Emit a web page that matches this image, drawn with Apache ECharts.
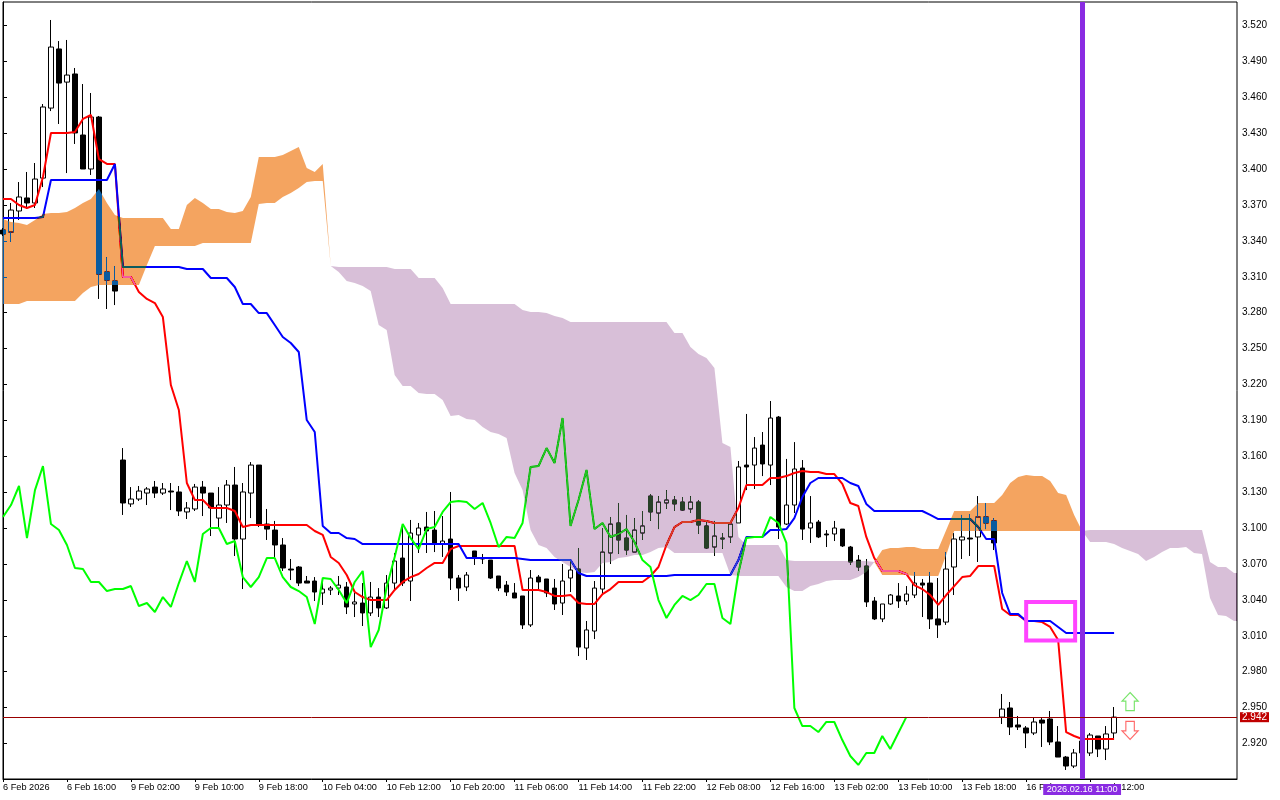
<!DOCTYPE html>
<html>
<head>
<meta charset="utf-8">
<style>html,body{margin:0;padding:0;background:#fff}#c{width:1280px;height:800px}</style>
<script src="https://cdn.jsdelivr.net/npm/echarts@6/dist/echarts.min.js"></script>
</head>
<body>
<div id="c"></div>
<script>
const opens = [
3.3491,3.3474,3.3650,3.3759,3.3717,3.3925,3.4510,3.5004,3.4727,3.4795,
3.4285,3.4001,3.4435,3.3140,3.3065,3.1569,3.1202,3.1243,3.1293,3.1343,
3.1293,3.1310,3.1302,3.1135,3.1160,3.1343,3.1293,3.1084,3.1193,3.1360,
3.0909,3.1293,3.1527,3.1034,3.0984,3.0859,3.0658,3.0675,3.0558,3.0558,
3.0458,3.0483,3.0499,3.0508,3.0366,3.0374,3.0291,3.0424,3.0333,3.0541,
3.0750,3.0558,3.0943,3.1009,3.0984,3.0867,3.0909,3.0583,3.0508,3.0809,
3.0750,3.0733,3.0600,3.0524,3.0458,3.0433,3.0191,3.0591,3.0575,3.0499,
3.0374,3.0583,3.0658,2.9998,3.0140,3.0491,3.0792,3.1043,3.0917,3.0800,
3.0959,3.1268,3.1126,3.1210,3.1235,3.1218,3.1160,3.1218,3.1018,3.0842,
3.0917,3.0926,3.1043,3.1527,3.1527,3.1694,3.1527,3.1928,3.1034,3.1193,
3.1502,3.1001,3.1051,3.0951,3.0951,3.0992,3.0842,3.0733,3.0683,3.0391,
3.0241,3.0366,3.0433,3.0391,3.0441,3.0541,3.0541,3.0241,3.0215,3.0675,
3.0901,3.0917,3.0926,3.1093,3.1060,2.9421,2.9497,2.9355,2.9330,2.9288,
2.9396,2.9405,2.9213,2.9087,2.9012,2.9121,2.9121,2.9263,2.9154,2.9288];
const closes = [
3.3458,3.3658,3.3767,3.3717,3.3917,3.4519,3.5020,3.4719,3.4786,3.4302,
3.4001,3.4435,3.3123,3.3073,3.2981,3.1210,3.1243,3.1310,3.1327,3.1293,
3.1327,3.1302,3.1143,3.1168,3.1343,3.1293,3.1168,3.1193,3.1360,3.0909,
3.1302,3.1527,3.1034,3.0992,3.0859,3.0667,3.0650,3.0541,3.0541,3.0466,
3.0491,3.0499,3.0524,3.0341,3.0383,3.0291,3.0424,3.0333,3.0541,3.0725,
3.0541,3.0959,3.1001,3.0976,3.0876,3.0892,3.0583,3.0499,3.0608,3.0759,
3.0742,3.0583,3.0499,3.0466,3.0416,3.0191,3.0583,3.0550,3.0458,3.0366,
3.0558,3.0650,3.0006,3.0149,3.0499,3.0800,3.1034,3.0901,3.0817,3.0984,
3.1018,3.1135,3.1218,3.1235,3.1202,3.1151,3.1218,3.1026,3.0834,3.0934,
3.0909,3.1034,3.1511,3.1511,3.1669,3.1536,3.1920,3.1009,3.1193,3.1494,
3.0992,3.1043,3.0926,3.0943,3.1001,3.0851,3.0717,3.0675,3.0383,3.0241,
3.0366,3.0441,3.0391,3.0449,3.0541,3.0524,3.0241,3.0191,3.0658,3.0909,
3.0926,3.0909,3.1093,3.1043,3.0876,2.9488,2.9338,2.9338,2.9288,2.9380,
2.9371,2.9213,2.9087,2.9012,2.9121,2.9221,2.9271,2.9154,2.9280,2.9421];
const lows = [
3.3441,3.3391,3.3575,3.3667,3.3675,3.3850,3.4485,3.4377,3.3967,3.4210,
3.4001,3.3951,3.2915,3.2831,3.2864,3.1110,3.1177,3.1227,3.1193,3.1252,
3.1277,3.1151,3.1101,3.1076,3.1143,3.1101,3.0934,3.1001,3.1043,3.0767,
3.0491,3.1084,3.1009,3.0901,3.0759,3.0642,3.0566,3.0516,3.0541,3.0391,
3.0358,3.0441,3.0441,3.0282,3.0257,3.0182,3.0266,3.0257,3.0324,3.0483,
3.0516,3.0391,3.0792,3.0792,3.0800,3.0759,3.0483,3.0391,3.0474,3.0692,
3.0700,3.0575,3.0474,3.0433,3.0416,3.0157,3.0174,3.0491,3.0424,3.0316,
3.0274,3.0466,2.9931,2.9898,3.0073,3.0449,3.0700,3.0784,3.0775,3.0800,
3.0901,3.1060,3.0992,3.1160,3.1143,3.1143,3.1126,3.0951,3.0826,3.0767,
3.0826,3.0876,3.1043,3.1318,3.1327,3.1435,3.1360,3.0909,3.1026,3.1126,
3.0901,3.0876,3.0917,3.0842,3.0892,3.0842,3.0692,3.0642,3.0341,3.0232,
3.0215,3.0358,3.0333,3.0358,3.0416,3.0257,3.0157,3.0082,3.0191,3.0441,
3.0742,3.0767,3.0717,3.0992,3.0817,2.9363,2.9271,2.9313,2.9162,2.9271,
2.9171,2.9187,2.9087,2.8979,2.8995,2.9062,2.9096,2.9087,2.9062,2.9238];
const highs = [
3.3508,3.3717,3.3892,3.3976,3.4051,3.4544,3.5246,3.5070,3.5079,3.4845,
3.4711,3.4636,3.4444,3.3265,3.3190,3.1669,3.1343,3.1352,3.1343,3.1394,
3.1377,3.1377,3.1352,3.1218,3.1369,3.1394,3.1293,3.1343,3.1402,3.1511,
3.1377,3.1552,3.1527,3.1160,3.1060,3.0917,3.0742,3.0683,3.0600,3.0591,
3.0583,3.0516,3.0600,3.0550,3.0458,3.0541,3.0550,3.0499,3.0608,3.0792,
3.1026,3.1068,3.1043,3.1135,3.1143,3.1101,3.1302,3.0608,3.0633,3.0809,
3.0784,3.0733,3.0600,3.0558,3.0541,3.0433,3.0650,3.0608,3.0575,3.0575,
3.0700,3.0725,3.0834,3.0224,3.0558,3.1001,3.1093,3.1210,3.1110,3.1084,
3.1143,3.1285,3.1268,3.1318,3.1268,3.1260,3.1268,3.1235,3.1060,3.1060,
3.0959,3.1060,3.1561,3.1954,3.1761,3.1803,3.2062,3.1937,3.1578,3.1719,
3.1569,3.1268,3.1068,3.0984,3.1060,3.0992,3.0851,3.0775,3.0742,3.0424,
3.0366,3.0449,3.0541,3.0516,3.0633,3.0575,3.0633,3.0583,3.0800,3.0959,
3.1110,3.1118,3.1268,3.1210,3.1084,2.9614,2.9547,2.9430,2.9346,2.9421,
2.9413,2.9472,2.9346,2.9096,2.9154,2.9246,2.9288,2.9263,2.9346,2.9505];

const tenkan = [
3.3750,3.3750,3.3700,3.3675,3.3700,3.3934,3.4302,3.4302,3.4302,3.4310,
3.4419,3.4452,3.4084,3.4043,3.4043,3.3098,3.3098,3.2973,3.2915,3.2881,
3.2764,3.2196,3.1987,3.1377,3.1235,3.1235,3.1168,3.1168,3.1168,3.1143,
3.1009,3.1026,3.1026,3.1026,3.1026,3.1026,3.1026,3.1026,3.1026,3.0976,
3.0943,3.0759,3.0709,3.0608,3.0466,3.0424,3.0399,3.0399,3.0399,3.0483,
3.0550,3.0591,3.0617,3.0667,3.0709,3.0709,3.0825,3.0851,3.0851,3.0851,
3.0851,3.0851,3.0851,3.0851,3.0851,3.0483,3.0483,3.0483,3.0466,3.0433,
3.0433,3.0441,3.0374,3.0366,3.0366,3.0449,3.0491,3.0550,3.0550,3.0550,
3.0550,3.0600,3.0675,3.0859,3.1009,3.1051,3.1051,3.1068,3.1060,3.1043,
3.1043,3.1043,3.1168,3.1360,3.1360,3.1360,3.1419,3.1419,3.1435,3.1461,
3.1477,3.1469,3.1469,3.1452,3.1452,3.1369,3.1210,3.1185,3.0926,3.0750,
3.0642,3.0642,3.0642,3.0617,3.0524,3.0491,3.0441,3.0358,3.0441,3.0516,
3.0591,3.0600,3.0683,3.0683,3.0683,3.0324,3.0274,3.0274,3.0224,3.0224,
3.0215,3.0174,3.0065,2.9296,2.9263,2.9238,2.9238,2.9238,2.9238,2.9238];
const kijun = [
3.3591,3.3591,3.3591,3.3591,3.3591,3.3600,3.3909,3.3909,3.3909,3.3909,
3.3909,3.3909,3.3909,3.3909,3.4043,3.3182,3.3182,3.3182,3.3182,3.3182,
3.3182,3.3182,3.3182,3.3165,3.3165,3.3165,3.3090,3.3090,3.3090,3.3015,
3.2873,3.2873,3.2797,3.2797,3.2697,3.2597,3.2547,3.2472,3.1903,3.1803,
3.1018,3.0959,3.0959,3.0917,3.0909,3.0867,3.0867,3.0867,3.0867,3.0867,
3.0867,3.0867,3.0867,3.0867,3.0867,3.0867,3.0867,3.0867,3.0750,3.0750,
3.0750,3.0750,3.0750,3.0750,3.0750,3.0742,3.0733,3.0733,3.0733,3.0733,
3.0733,3.0733,3.0625,3.0600,3.0600,3.0600,3.0600,3.0600,3.0600,3.0600,
3.0600,3.0600,3.0600,3.0600,3.0608,3.0608,3.0608,3.0608,3.0608,3.0608,
3.0608,3.0608,3.0733,3.0926,3.0926,3.0926,3.0984,3.0984,3.0992,3.1084,
3.1260,3.1377,3.1419,3.1419,3.1419,3.1419,3.1377,3.1352,3.1202,3.1143,
3.1143,3.1143,3.1143,3.1143,3.1143,3.1143,3.1110,3.1076,3.1076,3.1076,
3.1076,3.1076,3.1009,3.0909,3.0909,3.0458,3.0282,3.0282,3.0224,3.0224,
3.0224,3.0224,3.0174,3.0124,3.0124,3.0124,3.0124,3.0124,3.0124,3.0124];
const chikou = [
3.1093,3.1193,3.1352,3.0917,3.1318,3.1519,3.1034,3.0984,3.0859,3.0667,
3.0658,3.0550,3.0550,3.0474,3.0491,3.0491,3.0516,3.0349,3.0374,3.0299,
3.0424,3.0341,3.0541,3.0725,3.0550,3.0951,3.1001,3.1001,3.0867,3.0892,
3.0591,3.0508,3.0591,3.0750,3.0750,3.0591,3.0508,3.0474,3.0424,3.0199,
3.0583,3.0575,3.0483,3.0374,3.0550,3.0642,3.0006,3.0149,3.0508,3.0759,
3.1034,3.0917,3.0825,3.0992,3.1009,3.1135,3.1218,3.1227,3.1218,3.1160,
3.1210,3.1043,3.0842,3.0926,3.0917,3.1043,3.1511,3.1519,3.1669,3.1544,
3.1920,3.1018,3.1235,3.1486,3.0992,3.1043,3.0926,3.0951,3.0992,3.0884,
3.0733,3.0675,3.0399,3.0249,3.0358,3.0433,3.0399,3.0441,3.0533,3.0533,
3.0249,3.0199,3.0625,3.0917,3.0926,3.0926,3.1093,3.1043,3.0876,2.9497,
2.9346,2.9346,2.9296,2.9380,2.9380,2.9229,2.9096,2.9021,2.9121,2.9121,
2.9263,2.9154,2.9288,2.9421];
const spanA = [
3.3583,3.3558,3.3550,3.3533,3.3575,3.3625,3.3633,3.3633,3.3642,3.3675,
3.3717,3.3750,3.3834,3.3717,3.3616,3.3591,3.3591,3.3591,3.3591,3.3591,
3.3591,3.3499,3.3499,3.3700,3.3759,3.3717,3.3667,3.3667,3.3642,3.3633,
3.3650,3.3767,3.4101,3.4101,3.4101,3.4118,3.4151,3.4185,3.4009,3.3976,
3.4043,3.3190,3.3140,3.3065,3.3048,3.3023,3.2981,3.2697,3.2655,3.2279,
3.2187,3.2187,3.2129,3.2121,3.2121,3.2070,3.1937,3.1945,3.1912,3.1903,
3.1845,3.1803,3.1786,3.1753,3.1461,3.1318,3.0984,3.0859,3.0834,3.0759,
3.0717,3.0675,3.0633,3.0625,3.0633,3.0709,3.0717,3.0750,3.0759,3.0775,
3.0775,3.0800,3.0834,3.0842,3.0792,3.0792,3.0792,3.0792,3.0792,3.0792,
3.0792,3.0608,3.0600,3.0600,3.0600,3.0600,3.0600,3.0600,3.0508,3.0474,
3.0474,3.0516,3.0533,3.0558,3.0566,3.0566,3.0566,3.0591,3.0633,3.0717,
3.0817,3.0834,3.0834,3.0842,3.0842,3.0825,3.0825,3.0825,3.0984,3.1143,
3.1143,3.1143,3.1210,3.1210,3.1210,3.1277,3.1377,3.1427,3.1444,3.1435,
3.1435,3.1394,3.1293,3.1277,3.1110,3.0976,3.0884,3.0884,3.0884,3.0867,
3.0834,3.0809,3.0784,3.0725,3.0759,3.0800,3.0834,3.0834,3.0842,3.0792,
3.0784,3.0416,3.0274,3.0266,3.0224,3.0224];
const spanB = [
3.2873,3.2873,3.2873,3.2898,3.2898,3.2898,3.2898,3.2898,3.2898,3.2898,
3.2965,3.3015,3.3031,3.3031,3.3031,3.3031,3.3031,3.3031,3.3198,3.3357,
3.3357,3.3357,3.3357,3.3357,3.3357,3.3382,3.3382,3.3382,3.3382,3.3382,
3.3382,3.3382,3.3709,3.3717,3.3717,3.3767,3.3800,3.3842,3.3892,3.3901,
3.3901,3.3190,3.3182,3.3182,3.3182,3.3182,3.3182,3.3182,3.3182,3.3165,
3.3165,3.3165,3.3090,3.3090,3.3090,3.3006,3.2873,3.2873,3.2873,3.2873,
3.2873,3.2873,3.2873,3.2873,3.2873,3.2823,3.2806,3.2806,3.2797,3.2772,
3.2756,3.2722,3.2722,3.2722,3.2722,3.2722,3.2722,3.2722,3.2722,3.2722,
3.2722,3.2722,3.2722,3.2722,3.2630,3.2630,3.2513,3.2455,3.2421,3.2338,
3.1711,3.1678,3.0926,3.0859,3.0859,3.0859,3.0859,3.0859,3.0733,3.0725,
3.0725,3.0725,3.0725,3.0725,3.0725,3.0725,3.0725,3.0725,3.0725,3.0717,
3.0608,3.0608,3.0608,3.0608,3.0600,3.0600,3.0600,3.0600,3.0775,3.0976,
3.0976,3.0976,3.0976,3.0976,3.0976,3.0976,3.0976,3.0976,3.0976,3.0976,
3.0976,3.0976,3.0976,3.0976,3.0976,3.0976,3.0984,3.0984,3.0984,3.0984,
3.0984,3.0984,3.0984,3.0984,3.0984,3.0984,3.0984,3.0984,3.0984,3.0984,
3.0984,3.0717,3.0675,3.0675,3.0625,3.0625];

const yTicks = [2.92,2.95,2.98,3.01,3.04,3.07,3.10,3.13,3.16,3.19,3.22,3.25,3.28,3.31,3.34,3.37,3.40,3.43,3.46,3.49,3.52];
const xTickIndex = [0,8,16,24,32,40,48,56,64,72,80,88,96,104,112,120,128,136];
const xTickLabels = ['6 Feb 2026','6 Feb 16:00','9 Feb 02:00','9 Feb 10:00','9 Feb 18:00','10 Feb 04:00','10 Feb 12:00','10 Feb 20:00','11 Feb 06:00','11 Feb 14:00','11 Feb 22:00','12 Feb 08:00','12 Feb 16:00','13 Feb 02:00','13 Feb 10:00','13 Feb 18:00','16 Feb 04:00','16 Feb 12:00'];
const lastPrice = 2.942;
const markerIndex = 135;
const markerLabel = '2026.02.16 11:00';
const boxRange = {x0:128, x1:134.125, top:3.0383, bottom:3.0061};
const upArrow = [141, 2.9551];
const downArrow = [141, 2.9309];

const FONT = 'Liberation Sans';
const idx = a => a.map((v,i)=>[i,v]);

const candleData = opens.map((o,i)=>[i,o,closes[i],lows[i],highs[i]]);
const cloudData = spanA.map((a,i)=>[i,a,spanB[i]]);

// contiguous cloud regions: sign of A-B; touching points are shared
const regions = [];
(function(){
  let start = 0, sign = 0;
  for (let i=0;i<spanA.length;i++){
    const s = spanA[i]>spanB[i]?1:(spanA[i]<spanB[i]?-1:0);
    if (s===0 && i>0){ regions.push({start,end:i,sign}); start=i; sign=0; }
    else if (s!==0) sign=s;
  }
  regions.push({start,end:spanA.length-1,sign});
})();

function renderCloud(params, api){
  const r = regions.find(x=>x.start===params.dataIndex);
  if(!r) return null;
  const pts=[];
  for(let i=r.start;i<=r.end;i++) pts.push(api.coord([i,spanA[i]]));
  for(let i=r.end;i>=r.start;i--) pts.push(api.coord([i,spanB[i]]));
  return {type:'polygon',shape:{points:pts},
    style:{fill:r.sign>0?'#0B5B9F':'#274027',stroke:null}};
}

const chart = echarts.init(document.getElementById('c'),null,{renderer:'canvas',width:1280,height:800});
chart.setOption({
  animation:false,
  backgroundColor:'#ffffff',
  textStyle:{fontFamily:FONT},
  grid:{left:2,top:2,right:43,bottom:21,show:true,borderColor:'#000',borderWidth:1,backgroundColor:'transparent',containLabel:false},
  xAxis:{type:'value',min:0,max:154.375,position:'bottom',
    splitLine:{show:false},axisLine:{show:true,lineStyle:{color:'#000',width:1}},
    axisTick:{show:true,length:3,customValues:xTickIndex,lineStyle:{color:'#000'}},
    axisLabel:{customValues:xTickIndex,align:'left',margin:4,fontSize:9.2,color:'#000',fontFamily:FONT,hideOverlap:false,showMinLabel:true,showMaxLabel:true,
      formatter:v=>xTickLabels[xTickIndex.indexOf(v)]||''}},
  yAxis:{type:'value',min:2.89036,max:3.53964,position:'right',scale:true,
    splitLine:{show:false},axisLine:{show:true,lineStyle:{color:'#000',width:1}},
    axisTick:{show:true,length:4,customValues:yTicks,lineStyle:{color:'#000'}},
    axisLabel:{customValues:yTicks,margin:5,fontSize:10,color:'#000',fontFamily:FONT,formatter:v=>v.toFixed(3)}},
  tooltip:{show:false},
  series:[
    {type:'candlestick',name:'price',data:candleData,encode:{x:0,y:[1,2,3,4]},barWidth:5,z:2,silent:true,
     itemStyle:{color:'#ffffff',color0:'#000000',borderColor:'#000000',borderColor0:'#000000',borderWidth:1}},
    {type:'line',name:'tenkan',data:idx(tenkan),showSymbol:false,symbol:'none',smooth:false,z:3,silent:true,lineStyle:{color:'#ff0000',width:2}},
    {type:'line',name:'kijun',data:idx(kijun),showSymbol:false,symbol:'none',smooth:false,z:3,silent:true,lineStyle:{color:'#0000ff',width:2}},
    {type:'line',name:'chikou',data:idx(chikou),showSymbol:false,symbol:'none',smooth:false,z:3,silent:true,lineStyle:{color:'#00ff00',width:2}},
    {type:'custom',name:'cloud',data:cloudData,encode:{x:0,y:[1,2]},renderItem:renderCloud,clip:true,z:4,silent:true,blendMode:'difference'},
    {type:'scatter',name:'up',data:[upArrow],z:9,silent:true,symbol:'path://M8.5,0 L17,9 L13,9 L13,19 L4,19 L4,9 L0,9 Z',symbolSize:[16,18],
     itemStyle:{color:'#ffffff',borderColor:'#55dd44',borderWidth:1.2}},
    {type:'scatter',name:'down',data:[downArrow],z:9,silent:true,symbol:'path://M4,0 L13,0 L13,10 L17,10 L8.5,19 L0,10 L4,10 Z',symbolSize:[16,18],
     itemStyle:{color:'#ffffff',borderColor:'#ff4444',borderWidth:1.2}},
    {type:'line',name:'markers',data:[],z:10,silent:true,symbol:'none',
     markArea:{silent:true,z:11,itemStyle:{color:'rgba(0,0,0,0)',borderColor:'#ff44ff',borderWidth:4},
       data:[[{xAxis:boxRange.x0,yAxis:boxRange.top},{xAxis:boxRange.x1,yAxis:boxRange.bottom}]]},
     markLine:{silent:true,z:12,symbol:'none',animation:false,precision:4,
       data:[
         {xAxis:markerIndex,lineStyle:{color:'#8a2be2',width:5,type:'solid'},
          label:{show:true,position:'start',distance:5,formatter:markerLabel,color:'#fff',backgroundColor:'#8a2be2',padding:[1,3.5,1,3.5],fontSize:9.2,fontFamily:FONT}},
         {yAxis:lastPrice,lineStyle:{color:'#990000',width:1,type:'solid'},
          label:{show:true,position:'end',distance:3,formatter:lastPrice.toFixed(3),color:'#fff',backgroundColor:'#c00000',padding:[0,2,0,2],fontSize:10,fontFamily:FONT}}
       ]}}
  ]
});
</script>
</body>
</html>
